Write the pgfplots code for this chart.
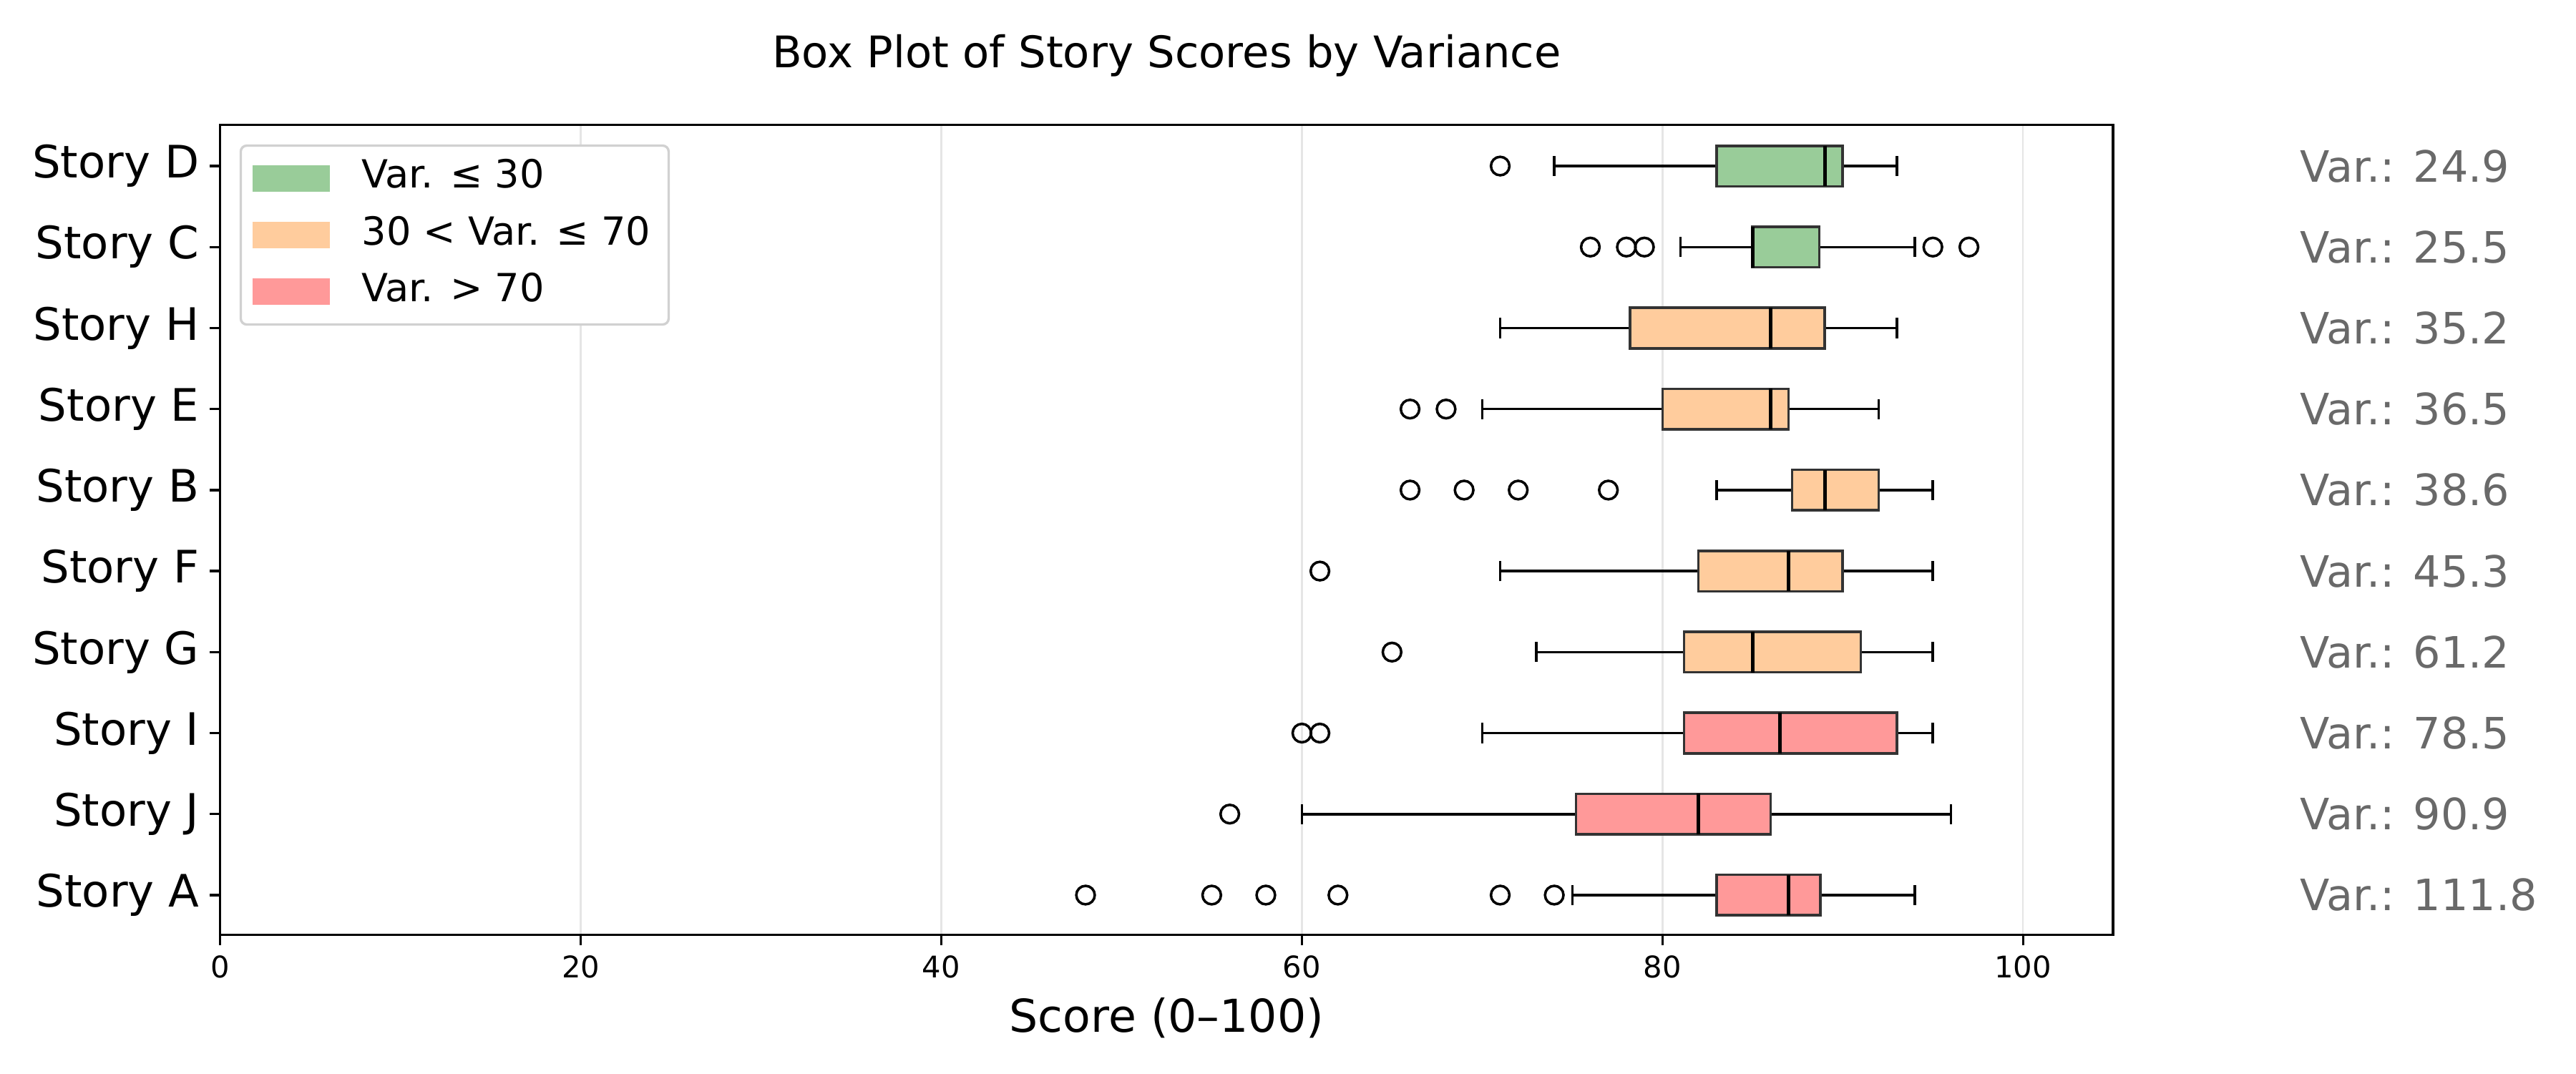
\documentclass[border=0pt]{standalone}
\usepackage{fontspec}
\setmainfont{DejaVu Sans}
\usepackage{pgfplots}
\pgfplotsset{compat=1.18}
\usepgfplotslibrary{statistics}
\definecolor{gfill}{RGB}{153,204,153}
\definecolor{ofill}{RGB}{255,204,157}
\definecolor{rfill}{RGB}{255,153,153}
\definecolor{vargray}{RGB}{105,105,105}
\begin{document}
\begin{tikzpicture}
\useasboundingbox (0,0) rectangle (864pt,360pt);
\begin{axis}[
  at={(73.85pt,46.46pt)}, anchor=south west,
  scale only axis, width=634.9pt, height=271.7pt,
  xmin=0, xmax=105, ymin=-0.49, ymax=9.51,
  clip=false,
  axis line style={line width=0.8pt},
  xtick={0,20,40,60,80,100},
  ytick={0,1,2,3,4,5,6,7,8,9},
  yticklabels={Story A,Story J,Story I,Story G,Story F,Story B,Story E,Story H,Story C,Story D},
  tick align=outside, major tick length=3.5pt,
  tick style={line width=0.8pt, black},
  xtick pos=bottom, ytick pos=left,
  /pgf/number format/assume math mode=true,
  xticklabel style={font=\fontsize{10}{12}\selectfont},
  yticklabel style={font=\fontsize{15}{18}\selectfont},
  xmajorgrids, ymajorgrids=false,
  major grid style={color=black!10, line width=0.6pt},
  xlabel={Score (0–100)},
  xlabel style={font=\fontsize{15.2}{18}\selectfont, at={(0.5,0)}, anchor=base, yshift=-32.7pt},
  title={Box Plot of Story Scores by Variance},
  title style={font=\fontsize{14.6}{17}\selectfont, at={(0.5,1)}, anchor=base, yshift=13.1pt},
  boxplot/draw direction=x,
  boxplot/box extend=0.5,
  boxplot/whisker extend=0.25,
  boxplot/every whisker/.style={black, line width=0.85pt},
  boxplot/every median/.style={black, line width=1.2pt},
  legend cell align=left,
  legend image code/.code={\fill[#1, sharp corners] (2pt,-4.45pt) rectangle (28pt,4.45pt); \path (0pt,0pt) (34.6pt,0pt);},
  legend style={at={(0,1)}, anchor=north west, xshift=6.5pt, yshift=-6.6pt,
    draw=black!18, rounded corners=2pt, line width=0.8pt,
    font=\fontsize{13}{15.6}\selectfont,
    inner xsep=2pt, inner ysep=1.5pt,
    nodes={text height=9.5pt, text depth=3pt, inner ysep=3.25pt, inner xsep=4pt}},
]
\addlegendimage{fill=gfill, draw=none}
\addlegendentry{Var. ≤ 30}
\addlegendimage{fill=ofill, draw=none}
\addlegendentry{30 < Var. ≤ 70}
\addlegendimage{fill=rfill, draw=none}
\addlegendentry{Var. > 70}

% Story D (9)
\addplot[boxplot prepared={lower whisker=74, lower quartile=83, median=89, upper quartile=90, upper whisker=93, draw position=9},
  draw=black!80, fill=gfill, line width=0.85pt] coordinates {};
% Story C (8)
\addplot[boxplot prepared={lower whisker=81, lower quartile=85, median=85, upper quartile=88.7, upper whisker=94, draw position=8},
  draw=black!80, fill=gfill, line width=0.85pt] coordinates {};
% Story H (7)
\addplot[boxplot prepared={lower whisker=71, lower quartile=78.2, median=86, upper quartile=89, upper whisker=93, draw position=7},
  draw=black!80, fill=ofill, line width=0.85pt] coordinates {};
% Story E (6)
\addplot[boxplot prepared={lower whisker=70, lower quartile=80, median=86, upper quartile=87, upper whisker=92, draw position=6},
  draw=black!80, fill=ofill, line width=0.85pt] coordinates {};
% Story B (5)
\addplot[boxplot prepared={lower whisker=83, lower quartile=87.2, median=89, upper quartile=92, upper whisker=95, draw position=5},
  draw=black!80, fill=ofill, line width=0.85pt] coordinates {};
% Story F (4)
\addplot[boxplot prepared={lower whisker=71, lower quartile=82, median=87, upper quartile=90, upper whisker=95, draw position=4},
  draw=black!80, fill=ofill, line width=0.85pt] coordinates {};
% Story G (3)
\addplot[boxplot prepared={lower whisker=73, lower quartile=81.2, median=85, upper quartile=91, upper whisker=95, draw position=3},
  draw=black!80, fill=ofill, line width=0.85pt] coordinates {};
% Story I (2)
\addplot[boxplot prepared={lower whisker=70, lower quartile=81.2, median=86.5, upper quartile=93, upper whisker=95, draw position=2},
  draw=black!80, fill=rfill, line width=0.85pt] coordinates {};
% Story J (1)
\addplot[boxplot prepared={lower whisker=60, lower quartile=75.2, median=82, upper quartile=86, upper whisker=96, draw position=1},
  draw=black!80, fill=rfill, line width=0.85pt] coordinates {};
% Story A (0)
\addplot[boxplot prepared={lower whisker=75, lower quartile=83, median=87, upper quartile=88.75, upper whisker=94, draw position=0},
  draw=black!80, fill=rfill, line width=0.85pt] coordinates {};

% outliers
\addplot[only marks, mark=o, mark size=3.1pt, black, mark options={line width=0.85pt}] coordinates {
  (71,9)
  (76,8) (78,8) (79,8) (95,8) (97,8)
  (66,6) (68,6)
  (66,5) (69,5) (72,5) (77,5)
  (61,4)
  (65,3)
  (60,2) (61,2)
  (56,1)
  (48,0) (55,0) (58,0) (62,0) (71,0) (74,0)
};

\begin{scope}[every node/.style={anchor=west, text=vargray, font=\fontsize{14.5}{17}\selectfont}]
\node at (axis cs:114.8,9) {Var.: 24.9};
\node at (axis cs:114.8,8) {Var.: 25.5};
\node at (axis cs:114.8,7) {Var.: 35.2};
\node at (axis cs:114.8,6) {Var.: 36.5};
\node at (axis cs:114.8,5) {Var.: 38.6};
\node at (axis cs:114.8,4) {Var.: 45.3};
\node at (axis cs:114.8,3) {Var.: 61.2};
\node at (axis cs:114.8,2) {Var.: 78.5};
\node at (axis cs:114.8,1) {Var.: 90.9};
\node at (axis cs:114.8,0) {Var.: 111.8};
\end{scope}
\end{axis}
\end{tikzpicture}
\end{document}
